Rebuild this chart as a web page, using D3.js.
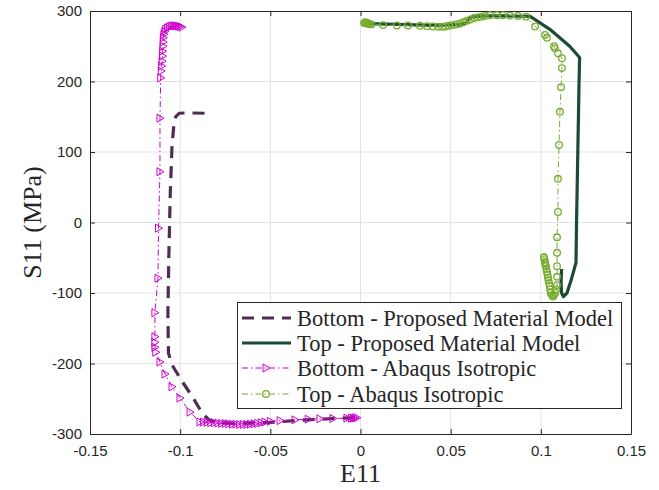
<!DOCTYPE html>
<html>
<head>
<meta charset="utf-8">
<style>
  body { margin: 0; background: #fff; }
  text { fill: #262626; }
</style>
</head>
<body>
<svg id="chart" width="659" height="490"></svg>
<script src="https://cdn.jsdelivr.net/npm/d3@7"></script>
<script>
// ticks
const xTicks = [-0.15, -0.1, -0.05, 0, 0.05, 0.1, 0.15]
const yTicks = [-300, -200, -100, 0, 100, 200, 300]
const xTickLabels = ["-0.15", "-0.1", "-0.05", "0", "0.05", "0.1", "0.15"]
const yTickLabels = ["-300", "-200", "-100", "0", "100", "200", "300"]

const seriesNames = [
  "Bottom - Proposed Material Model",
  "Top - Proposed Material Model",
  "Bottom - Abaqus Isotropic",
  "Top - Abaqus Isotropic"
]

// Bottom - Proposed Material Model
const bottomPropE = [-0.0865, -0.096, -0.1005, -0.1025, -0.1035, -0.1045, -0.1055, -0.1063, -0.1068, -0.1065, -0.1045, -0.099, -0.093, -0.0879, -0.084, -0.079, -0.07, -0.05, -0.03, -0.015, -0.003]
const bottomPropS = [155, 155.5, 155, 150, 138, 110, 40, -50, -130, -185, -202, -225, -248, -270, -280, -284, -285, -283.5, -280, -278, -277]

// Top - Proposed Material Model
const topPropE = [0.004, 0.02, 0.04, 0.055, 0.0585, 0.0595, 0.062, 0.07, 0.08, 0.094, 0.105, 0.116, 0.1215, 0.1212, 0.1205, 0.1198, 0.1195, 0.117, 0.1145, 0.1125, 0.1115, 0.1112, 0.1115]
const topPropS = [282, 281, 279.5, 281, 283, 288, 292, 293, 293, 292.5, 274, 250, 234, 200, 100, 0, -57, -80, -100, -105, -100, -85, -66]

// Bottom - Abaqus Isotropic
const bottomAbqE = [-0.002, -0.003, -0.004, -0.005, -0.0075, -0.0153, -0.0225, -0.029, -0.0363, -0.0446, -0.05, -0.053, -0.055, -0.057, -0.059, -0.061, -0.063, -0.065, -0.067, -0.069, -0.071, -0.073, -0.075, -0.077, -0.079, -0.081, -0.083, -0.085, -0.087, -0.089, -0.0945, -0.1001, -0.1045, -0.1084, -0.1112, -0.1135, -0.114, -0.114, -0.114, -0.114, -0.1123, -0.112, -0.1112, -0.1112, -0.1108, -0.1105, -0.1103, -0.11, -0.1098, -0.1097, -0.1095, -0.1094, -0.1093, -0.109, -0.1085, -0.108, -0.107, -0.106, -0.105, -0.104, -0.103, -0.102, -0.101, -0.1, -0.099]
const bottomAbqS = [-277, -277, -277.5, -277.5, -277.5, -278, -278.5, -279, -280, -281, -282, -283, -284, -285, -285.5, -286, -286.5, -286.5, -286.5, -286, -286, -285.5, -285, -285, -284.5, -284, -284, -283.5, -283, -283, -269, -249, -233, -215, -198, -184, -177, -170, -162, -128, -79, -8, 72, 148, 205, 215, 222, 229, 236, 243, 250, 256, 262, 267, 271, 274, 276, 277.5, 278.5, 279, 279, 279, 278.5, 278, 277]

// Top - Abaqus Isotropic
const topAbqE = [0.002, 0.0025, 0.003, 0.0035, 0.004, 0.0045, 0.005, 0.006, 0.0125, 0.0202, 0.0263, 0.033, 0.0369, 0.0402, 0.043, 0.0452, 0.047, 0.049, 0.051, 0.053, 0.055, 0.057, 0.059, 0.061, 0.063, 0.065, 0.067, 0.069, 0.0718, 0.0757, 0.079, 0.0829, 0.0873, 0.0918, 0.0968, 0.1023, 0.1034, 0.1073, 0.1078, 0.1095, 0.1117, 0.1117, 0.1112, 0.1106, 0.1101, 0.1095, 0.1095, 0.109, 0.109, 0.109, 0.109, 0.109, 0.1085, 0.108, 0.1073, 0.1067, 0.1061, 0.1055, 0.1052, 0.105, 0.1046, 0.1042, 0.104, 0.1037, 0.1034, 0.1031, 0.1028, 0.1025, 0.1023, 0.102, 0.1017]
const topAbqS = [283, 284, 282.5, 283.5, 282, 282.5, 281.5, 281, 280, 279.5, 279.5, 279, 278.5, 278, 277.5, 277.5, 278, 279, 280, 281, 282, 284, 286, 288, 290, 291, 292, 293, 294, 294, 294, 293.5, 293, 292, 278, 266, 262, 250, 247, 240, 233, 219, 192, 157, 110, 62, 15, -21, -43, -62, -77, -89, -95, -100, -103, -105, -103, -100, -95, -90, -86, -82, -78, -74, -70, -66, -62, -59, -56, -52, -49]

const colors = ["#4f2d52", "#1b4b34", "#cc00cc", "#77ac30"]

const svg = d3.select("#chart")
const mLeft = 90, mRight = 631, mTop = 11, mBottom = 434

const x = d3.scaleLinear().domain([-0.15, 0.15]).range([mLeft, mRight])
const y = d3.scaleLinear().domain([-300, 300]).range([mBottom, mTop])

// grid
const grid = svg.append("g")
grid.selectAll(".gx").data(xTicks.slice(1, -1)).enter().append("line")
  .attr("x1", d => x(d)).attr("x2", d => x(d))
  .attr("y1", mTop).attr("y2", mBottom)
  .attr("stroke", "#e3e3e3").attr("stroke-width", 1)
grid.selectAll(".gy").data(yTicks.slice(1, -1)).enter().append("line")
  .attr("x1", mLeft).attr("x2", mRight)
  .attr("y1", d => y(d)).attr("y2", d => y(d))
  .attr("stroke", "#e3e3e3").attr("stroke-width", 1)

// axes (ticks inward, box)
const xAxis = d3.axisBottom(x).tickValues(xTicks).tickFormat((d, i) => xTickLabels[i]).tickSizeInner(-5).tickSizeOuter(0).tickPadding(11)
const yAxis = d3.axisLeft(y).tickValues(yTicks).tickFormat((d, i) => yTickLabels[i]).tickSizeInner(-5).tickSizeOuter(0).tickPadding(8)
const xTopAxis = d3.axisTop(x).tickValues(xTicks).tickFormat("").tickSizeInner(-5).tickSizeOuter(0)
const yRightAxis = d3.axisRight(y).tickValues(yTicks).tickFormat("").tickSizeInner(-5).tickSizeOuter(0)

function styleAxis(g) {
  g.select(".domain").attr("stroke", "#262626")
  g.selectAll(".tick line").attr("stroke", "#262626")
  g.selectAll(".tick text").attr("fill", "#262626")
    .style("font-family", "'Liberation Sans', Arial, sans-serif").style("font-size", "15px")
}
svg.append("g").attr("transform", `translate(0,${mBottom})`).call(xAxis).call(styleAxis)
svg.append("g").attr("transform", `translate(${mLeft},0)`).call(yAxis).call(styleAxis)
svg.append("g").attr("transform", `translate(0,${mTop})`).call(xTopAxis).call(styleAxis)
svg.append("g").attr("transform", `translate(${mRight},0)`).call(yRightAxis).call(styleAxis)

// axis titles
svg.append("text").attr("x", (mLeft + mRight) / 2).attr("y", 482)
  .attr("text-anchor", "middle")
  .style("font-family", "'Liberation Serif', serif").style("font-size", "26px")
  .text("E11")
svg.append("text").attr("transform", `translate(41,${(mTop + mBottom) / 2}) rotate(-90)`)
  .attr("text-anchor", "middle")
  .style("font-family", "'Liberation Serif', serif").style("font-size", "26px")
  .text("S11 (MPa)")

const line = d3.line().x(d => x(d[0])).y(d => y(d[1]))
const zip = (a, b) => a.map((v, i) => [v, b[i]])

const plot = svg.append("g")
const triPath = "M-3,-4L4,0L-3,4Z"

// Bottom - Proposed
plot.append("path").datum(zip(bottomPropE, bottomPropS))
  .attr("d", line).attr("fill", "none").attr("stroke", colors[0])
  .attr("stroke-width", 3.2).attr("stroke-dasharray", "12,8")

// Top - Proposed
plot.append("path").datum(zip(topPropE, topPropS))
  .attr("d", line).attr("fill", "none").attr("stroke", colors[1])
  .attr("stroke-width", 3.2).attr("stroke-linejoin", "round")

// Bottom - Abaqus
const bData = zip(bottomAbqE, bottomAbqS)
plot.append("path").datum(bData)
  .attr("d", line).attr("fill", "none").attr("stroke", colors[2])
  .attr("stroke-width", 1).attr("stroke-dasharray", "6,3,1.5,3")
plot.selectAll(".tri").data(bData).enter().append("path")
  .attr("d", triPath)
  .attr("transform", d => `translate(${x(d[0])},${y(d[1])})`)
  .attr("fill", "none").attr("stroke", colors[2]).attr("stroke-width", 1)

// Top - Abaqus
const tData = zip(topAbqE, topAbqS)
plot.append("path").datum(tData)
  .attr("d", line).attr("fill", "none").attr("stroke", colors[3])
  .attr("stroke-width", 1).attr("stroke-dasharray", "6,3,1.5,3")
plot.selectAll(".circ").data(tData).enter().append("circle")
  .attr("cx", d => x(d[0])).attr("cy", d => y(d[1])).attr("r", 3.3)
  .attr("fill", "none").attr("stroke", colors[3]).attr("stroke-width", 1.3)

// legend
const lg = svg.append("g")
lg.append("rect").attr("x", 237.5).attr("y", 302.5).attr("width", 384).attr("height", 106)
  .attr("fill", "#fff").attr("stroke", "#262626").attr("stroke-width", 1)
const rowsY = [318, 343, 368, 394]
const styles = [
  { w: 3.2, dash: "12,8" },
  { w: 3.2, dash: null },
  { w: 1, dash: "6,3,1.5,3" },
  { w: 1, dash: "6,3,1.5,3" }
]
seriesNames.forEach((name, i) => {
  const ry = rowsY[i]
  lg.append("line").attr("x1", 242).attr("x2", 291).attr("y1", ry).attr("y2", ry)
    .attr("stroke", colors[i]).attr("stroke-width", styles[i].w)
    .attr("stroke-dasharray", styles[i].dash)
  if (i === 2) {
    lg.append("path").attr("d", triPath).attr("transform", `translate(266,${ry})`)
      .attr("fill", "none").attr("stroke", colors[i]).attr("stroke-width", 1)
  }
  if (i === 3) {
    lg.append("circle").attr("cx", 266).attr("cy", ry).attr("r", 3.3)
      .attr("fill", "none").attr("stroke", colors[i]).attr("stroke-width", 1.3)
  }
  lg.append("text").attr("x", 297).attr("y", ry + 7.5)
    .style("font-family", "'Liberation Serif', serif").style("font-size", "22.5px")
    .text(name)
})
</script>
</body>
</html>
